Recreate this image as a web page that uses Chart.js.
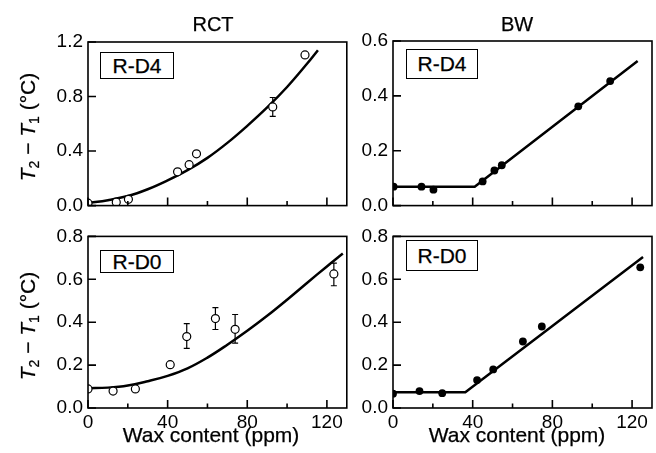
<!DOCTYPE html>
<html><head><meta charset="utf-8">
<script src="https://cdn.jsdelivr.net/npm/chart.js@4.4.1/dist/chart.umd.min.js"></script>
<style>
html,body{margin:0;padding:0;background:#fff;}
body{width:656px;height:453px;position:relative;overflow:hidden;font-family:"Liberation Sans",Arial,sans-serif;color:#000;}
canvas{position:absolute;}
.t{position:absolute;transform:translate(-50%,-50%);line-height:1;white-space:nowrap;-webkit-text-stroke:0.25px #000;}
.yt{position:absolute;transform:translate(-50%,-50%) rotate(-90deg);line-height:1;white-space:nowrap;font-size:21px;-webkit-text-stroke:0.25px #000;}
.yt i{font-style:italic;}
.yt sub{font-size:14px;vertical-align:-4px;line-height:0;}
.box{position:absolute;border:1.4px solid #000;box-sizing:border-box;display:flex;align-items:center;justify-content:center;font-size:21px;background:#fff;-webkit-text-stroke:0.25px #000;}
</style></head>
<body>
<canvas id="tl" width="352" height="222" style="left:0;top:0"></canvas>
<canvas id="tr" width="304" height="222" style="left:352px;top:0"></canvas>
<canvas id="bl" width="352" height="233" style="left:0;top:220px"></canvas>
<canvas id="br" width="304" height="233" style="left:352px;top:220px"></canvas>

<div class="t" style="left:213px;top:24px;font-size:20px">RCT</div>
<div class="t" style="left:517px;top:24px;font-size:20px">BW</div>
<div class="yt" style="left:27px;top:127px"><i>T</i><sub>2</sub> − <i>T</i><sub>1</sub> (°C)</div>
<div class="yt" style="left:27px;top:326px"><i>T</i><sub>2</sub> − <i>T</i><sub>1</sub> (°C)</div>
<div class="t" style="left:211px;top:434px;font-size:21px">Wax content (ppm)</div>
<div class="t" style="left:517px;top:434px;font-size:21px">Wax content (ppm)</div>
<div class="box" style="left:100px;top:52px;width:74px;height:27px">R-D4</div>
<div class="box" style="left:406px;top:49px;width:72px;height:30px">R-D4</div>
<div class="box" style="left:100px;top:250px;width:74px;height:23px">R-D0</div>
<div class="box" style="left:406px;top:240px;width:72px;height:31px">R-D0</div>

<script>
// ---- tick values / labels ----
const xTickValues = [0, 20, 40, 60, 80, 100, 120];
const xTickLabels = ['0', '', '40', '', '80', '', '120'];
const xMajor = [0, 40, 80, 120];
const yTicksD4rct = [0, 0.4, 0.8, 1.2];
const yLabelsD4rct = ['0.0', '0.4', '0.8', '1.2'];
const yTicksD4bw = [0, 0.2, 0.4, 0.6];
const yLabelsD4bw = ['0.0', '0.2', '0.4', '0.6'];
const yTicksD0 = [0, 0.2, 0.4, 0.6, 0.8];
const yLabelsD0 = ['0.0', '0.2', '0.4', '0.6', '0.8'];

// ---- RCT, R-D4 ----
const rctD4X = [0, 14.2, 20.3, 45, 50.8, 54.5, 92.8, 109];
const rctD4Y = [0.018, 0.025, 0.046, 0.248, 0.30, 0.38, 0.724, 1.105];
const rctD4ErrLo = [null, null, null, null, null, null, 0.655, null];
const rctD4ErrHi = [null, null, null, null, null, null, 0.793, null];
const rctD4FitX = [0, 10, 20, 30, 40, 50, 60, 70, 80, 90, 100, 110, 115.5];
const rctD4FitY = [0.02, 0.04, 0.07, 0.12, 0.185, 0.26, 0.35, 0.46, 0.585, 0.72, 0.87, 1.04, 1.14];

// ---- BW, R-D4 ----
const bwD4X = [0.3, 14.3, 20.3, 45, 50.9, 54.6, 93, 109];
const bwD4Y = [0.069, 0.069, 0.058, 0.088, 0.128, 0.147, 0.362, 0.454];
const bwD4FitX = [0, 41, 122.8];
const bwD4FitY = [0.069, 0.069, 0.527];

// ---- RCT, R-D0 ----
const rctD0X = [0, 12.6, 23.8, 41.3, 49.6, 64, 73.9, 123.5];
const rctD0Y = [0.089, 0.079, 0.089, 0.202, 0.333, 0.417, 0.367, 0.625];
const rctD0ErrLo = [null, null, null, null, 0.278, 0.366, 0.302, 0.57];
const rctD0ErrHi = [null, null, null, null, 0.393, 0.468, 0.436, 0.675];
const rctD0FitX = [0, 10, 20, 30, 40, 50, 60, 70, 80, 90, 100, 110, 120, 128];
const rctD0FitY = [0.092, 0.095, 0.105, 0.125, 0.15, 0.185, 0.235, 0.295, 0.36, 0.43, 0.505, 0.583, 0.66, 0.72];

// ---- BW, R-D0 ----
const bwD0X = [0, 13.3, 24.7, 42.2, 50.3, 65.2, 74.7, 124.1];
const bwD0Y = [0.067, 0.079, 0.069, 0.13, 0.18, 0.31, 0.38, 0.656];
const bwD0FitX = [0, 36.3, 125.5];
const bwD0FitY = [0.074, 0.074, 0.704];

Chart.defaults.font.family = '"Liberation Sans", Arial, sans-serif';
Chart.defaults.color = '#000';

const framePlugin = {
  id: 'frame',
  beforeDatasetsDraw(chart) {
    const ctx = chart.ctx, xs = chart.scales.x, ys = chart.scales.y;
    chart.data.datasets.forEach(ds => {
      if (!ds.errLo) return;
      ctx.save();
      ctx.strokeStyle = '#000'; ctx.lineWidth = 1.2;
      ds.data.forEach((p, i) => {
        if (ds.errLo[i] == null) return;
        const px = xs.getPixelForValue(p.x);
        const lo = ys.getPixelForValue(ds.errLo[i]);
        const hi = ys.getPixelForValue(ds.errHi[i]);
        ctx.beginPath();
        ctx.moveTo(px, lo); ctx.lineTo(px, hi);
        ctx.moveTo(px - 3, lo); ctx.lineTo(px + 3, lo);
        ctx.moveTo(px - 3, hi); ctx.lineTo(px + 3, hi);
        ctx.stroke();
      });
      ctx.restore();
    });
  },
  afterDraw(chart) {
    const ctx = chart.ctx, a = chart.chartArea, xs = chart.scales.x, ys = chart.scales.y;
    ctx.save();
    ctx.strokeStyle = '#000';
    ctx.lineWidth = 1.6;
    ctx.strokeRect(a.left, a.top, a.right - a.left, a.bottom - a.top);
    ctx.beginPath();
    xs.ticks.forEach(t => {
      const px = xs.getPixelForValue(t.value);
      const len = xMajor.includes(t.value) ? 8 : 4.5;
      ctx.moveTo(px, a.bottom); ctx.lineTo(px, a.bottom - len);
    });
    ys.ticks.forEach(t => {
      const py = ys.getPixelForValue(t.value);
      ctx.moveTo(a.left, py); ctx.lineTo(a.left + 8, py);
    });
    ctx.stroke();
    ctx.restore();
  }
};

function panel(id, o) {
  const pts = o.px.map((x, i) => ({x: x, y: o.py[i]}));
  const fit = o.fx.map((x, i) => ({x: x, y: o.fy[i]}));
  new Chart(document.getElementById(id), {
    type: 'line',
    data: {
      datasets: [
        {
          type: 'line', data: fit, borderColor: '#000', borderWidth: 2.5,
          pointRadius: 0, fill: false, order: 1,
          tension: o.smooth ? 0.4 : 0
        },
        {
          type: 'scatter', data: pts, showLine: false, order: 0,
          pointRadius: o.filled ? 3.9 : 4,
          pointBackgroundColor: o.filled ? '#000' : '#fff',
          pointBorderColor: '#000', pointBorderWidth: o.filled ? 0 : 1.2,
          errLo: o.errLo, errHi: o.errHi
        }
      ]
    },
    options: {
      responsive: false, animation: false, events: [],
      layout: {padding: {left: 0, right: o.padR, top: o.padT, bottom: 0}},
      plugins: {legend: {display: false}, tooltip: {enabled: false}},
      scales: {
        x: {
          type: 'linear', min: 0, max: 130,
          afterBuildTicks: s => { s.ticks = xTickValues.map(v => ({value: v})); },
          afterFit: s => { s.height = o.xh; },
          grid: {display: false, drawTicks: false},
          border: {display: false},
          ticks: {
            display: o.showX, padding: 3, maxRotation: 0, autoSkip: false,
            font: {size: 19}, color: '#000',
            callback: (v, i) => xTickLabels[i]
          }
        },
        y: {
          type: 'linear', min: 0, max: o.ymax,
          afterBuildTicks: s => { s.ticks = o.yt.map(v => ({value: v})); },
          afterFit: s => { s.width = o.yw; },
          grid: {display: false, drawTicks: false},
          border: {display: false},
          ticks: {
            padding: 5, autoSkip: false, font: {size: 19}, color: '#000',
            callback: (v, i) => o.yl[i]
          }
        }
      }
    },
    plugins: [framePlugin]
  });
}

panel('tl', {px: rctD4X, py: rctD4Y, fx: rctD4FitX, fy: rctD4FitY, errLo: rctD4ErrLo, errHi: rctD4ErrHi,
  smooth: true, filled: false, ymax: 1.2, yt: yTicksD4rct, yl: yLabelsD4rct,
  padT: 42, padR: 4, xh: 6, yw: 88, showX: false});
panel('tr', {px: bwD4X, py: bwD4Y, fx: bwD4FitX, fy: bwD4FitY,
  smooth: false, filled: true, ymax: 0.6, yt: yTicksD4bw, yl: yLabelsD4bw,
  padT: 41, padR: 1, xh: 6, yw: 41, showX: false});
panel('bl', {px: rctD0X, py: rctD0Y, fx: rctD0FitX, fy: rctD0FitY, errLo: rctD0ErrLo, errHi: rctD0ErrHi,
  smooth: true, filled: false, ymax: 0.8, yt: yTicksD0, yl: yLabelsD0,
  padT: 14, padR: 4, xh: 45, yw: 88, showX: true});
panel('br', {px: bwD0X, py: bwD0Y, fx: bwD0FitX, fy: bwD0FitY,
  smooth: false, filled: true, ymax: 0.8, yt: yTicksD0, yl: yLabelsD0,
  padT: 13, padR: 1, xh: 45, yw: 41, showX: true});
</script>
</body></html>
